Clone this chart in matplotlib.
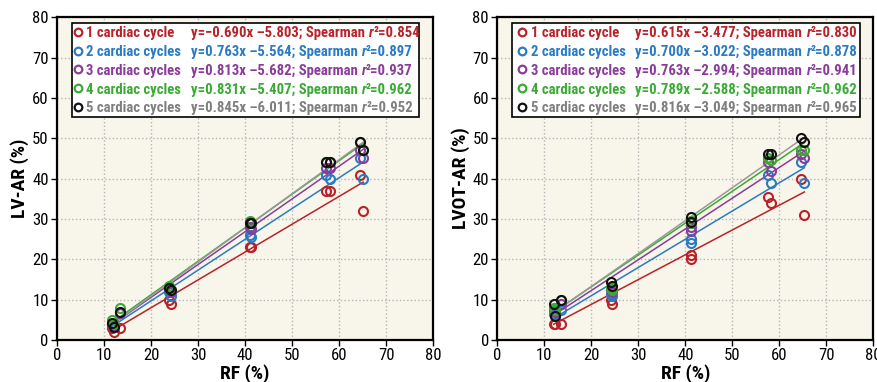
import matplotlib
matplotlib.use("Agg")
import matplotlib.pyplot as plt
from matplotlib import font_manager
from matplotlib.font_manager import FontProperties
import numpy as np
import os

# look for a condensed face (the original uses a narrow bold type)
files = [f.fname for f in font_manager.fontManager.ttflist]
def find(keys):
    for k in keys:
        for f in files:
            if os.path.basename(f).lower() == k.lower():
                return f
    return None

bold_file = find(["LiberationSansNarrow-Bold.ttf", "RobotoCondensed-Bold.ttf",
                  "DejaVuSansCondensed-Bold.ttf", "OpenSans-CondBold.ttf"])
reg_file = find(["LiberationSansNarrow-Regular.ttf", "RobotoCondensed-Regular.ttf",
                 "DejaVuSansCondensed.ttf", "OpenSans-CondLight.ttf"])
ital_file = find(["LiberationSansNarrow-BoldItalic.ttf", "RobotoCondensed-BoldItalic.ttf",
                  "DejaVuSansCondensed-BoldOblique.ttf"])

scale = 1.0
if bold_file:
    fp_bold = FontProperties(fname=bold_file)
else:
    fp_bold = FontProperties(family="Liberation Sans", weight="bold")
    scale = 0.8
fp_reg = FontProperties(fname=reg_file) if reg_file else FontProperties(family="Liberation Sans")
fp_ital = FontProperties(fname=ital_file) if ital_file else FontProperties(
    family="Liberation Sans", weight="bold", style="italic")

# ---- data ----
series_names = ["1 cardiac cycle", "2 cardiac cycles", "3 cardiac cycles",
                "4 cardiac cycles", "5 cardiac cycles"]
marker_colors = ["#b8232a", "#2b7bc2", "#8b3c9a", "#3aaa35", "#111111"]
text_colors = ["#b8232a", "#2b7bc2", "#8b3c9a", "#3aaa35", "#7f7f7f"]
line_colors = ["#b8232a", "#2b7bc2", "#8b3c9a", "#3aaa35", "#999999"]

# LV-AR panel
rf_lv = [11.7, 12.1, 13.5, 23.9, 24.3, 41.0, 41.3, 57.3, 58.0, 64.4, 65.1]
lv_ar = [
    [3, 2, 3, 10, 9, 23, 23, 37, 37, 41, 32],
    [4, 3.5, 6.6, 12, 11, 26, 25.5, 41, 40, 45, 40],
    [4, 3.5, 6.8, 13, 12, 28, 27.5, 42.5, 42.5, 47, 45],
    [5, 4, 8, 13.5, 12.5, 29.5, 29, 44, 44, 49, 47],
    [4.3, 3.3, 7, 13, 12.5, 29, 29, 44, 44, 49, 47],
]
lv_slope = [0.690, 0.763, 0.813, 0.831, 0.845]
lv_icpt = [-5.803, -5.564, -5.682, -5.407, -6.011]
lv_r2 = [0.854, 0.897, 0.937, 0.962, 0.952]
lv_slope_txt = ["\u22120.690", "0.763", "0.813", "0.831", "0.845"]

# LVOT-AR panel
rf_lvot = [12.0, 12.3, 13.6, 24.1, 24.3, 41.1, 41.3, 57.6, 58.3, 64.5, 65.3]
lvot_ar = [
    [4, 4, 4, 10, 9, 21, 20, 35.5, 34, 40, 31],
    [6.5, 6, 7.5, 11.5, 11, 25, 24, 41, 39, 44, 39],
    [7.5, 7, 9, 12.5, 12, 28, 27, 44, 42, 46, 45],
    [8, 7.5, 10, 13, 12.5, 29.5, 29, 45, 44.5, 47, 47],
    [9, 6, 10, 14.3, 13.4, 30.4, 29.3, 46, 46, 50, 49],
]
lvot_slope = [0.615, 0.700, 0.763, 0.789, 0.816]
lvot_icpt = [-3.477, -3.022, -2.994, -2.588, -3.049]
lvot_r2 = [0.830, 0.878, 0.941, 0.962, 0.965]
lvot_slope_txt = ["0.615", "0.700", "0.763", "0.789", "0.816"]


def panel(ax, rf, ar, slope, icpt, r2, slope_txt, ylabel, mk_x, name_x, eq_x):
    ax.set_facecolor("#f8f5ea")
    xs = np.array([min(rf), max(rf)])
    for i in range(5):
        ax.plot(xs, slope[i] * xs + icpt[i], color=line_colors[i], lw=1.1, zorder=2)
    for i in range(5):
        ax.plot(rf, ar[i], linestyle="none", marker="o", markersize=6.5,
                markerfacecolor="none", markeredgecolor=marker_colors[i],
                markeredgewidth=1.5, zorder=3)
    ax.set_xlim(0, 80)
    ax.set_ylim(0, 80)
    ax.set_xticks(range(0, 81, 10))
    ax.set_yticks(range(0, 81, 10))
    ax.grid(True, linestyle=":", color="#b5b5b5", lw=1.0)
    ax.set_axisbelow(True)
    for s in ax.spines.values():
        s.set_linewidth(1.6)
    ax.tick_params(length=4, width=1.0, pad=2)
    for lab in ax.get_xticklabels() + ax.get_yticklabels():
        lab.set_fontproperties(fp_reg)
        lab.set_fontsize(12 * scale)
    ax.set_xlabel("RF (%)", fontproperties=fp_bold, fontsize=14 * scale, labelpad=1)
    ax.set_ylabel(ylabel, fontproperties=fp_bold, fontsize=14 * scale, labelpad=2)

    # legend box
    fs = 10.6 * scale
    ax.add_patch(plt.Rectangle((0.040, 0.690), 0.923, 0.291, transform=ax.transAxes,
                               facecolor="white", edgecolor="black", lw=1.2, zorder=5))
    for i in range(5):
        yc = 0.955 - i * 0.0585
        ax.plot([mk_x], [yc], transform=ax.transAxes, linestyle="none", marker="o",
                markersize=5.5, markerfacecolor="none", markeredgecolor=marker_colors[i],
                markeredgewidth=1.6, zorder=6, clip_on=False)
        yb = yc - 0.016
        ax.text(name_x, yb, series_names[i], transform=ax.transAxes, color=text_colors[i],
                fontproperties=fp_bold, fontsize=fs, va="baseline", ha="left", zorder=6)
        t1 = ax.text(eq_x, yb, "y=%sx \u2013%.3f; Spearman " % (slope_txt[i], -icpt[i]),
                     transform=ax.transAxes, color=text_colors[i],
                     fontproperties=fp_bold, fontsize=fs, va="baseline", ha="left", zorder=6)
        t2 = ax.annotate("r", xy=(1, 0), xycoords=t1, va="bottom", ha="left",
                         color=text_colors[i], fontproperties=fp_ital, fontsize=fs, zorder=6)
        ax.annotate("\u00b2=%.3f" % r2[i], xy=(1, 0), xycoords=t2, va="bottom", ha="left",
                    color=text_colors[i], fontproperties=fp_bold, fontsize=fs, zorder=6)


fig = plt.figure(figsize=(8.77, 3.82), dpi=100)
ax1 = fig.add_axes([0.065, 0.110, 0.429, 0.845])
ax2 = fig.add_axes([0.567, 0.110, 0.429, 0.845])
panel(ax1, rf_lv, lv_ar, lv_slope, lv_icpt, lv_r2, lv_slope_txt, "LV-AR (%)",
      0.056, 0.078, 0.356)
panel(ax2, rf_lvot, lvot_ar, lvot_slope, lvot_icpt, lvot_r2, lvot_slope_txt, "LVOT-AR (%)",
      0.066, 0.091, 0.367)

fig.savefig("out.png", dpi=100)
